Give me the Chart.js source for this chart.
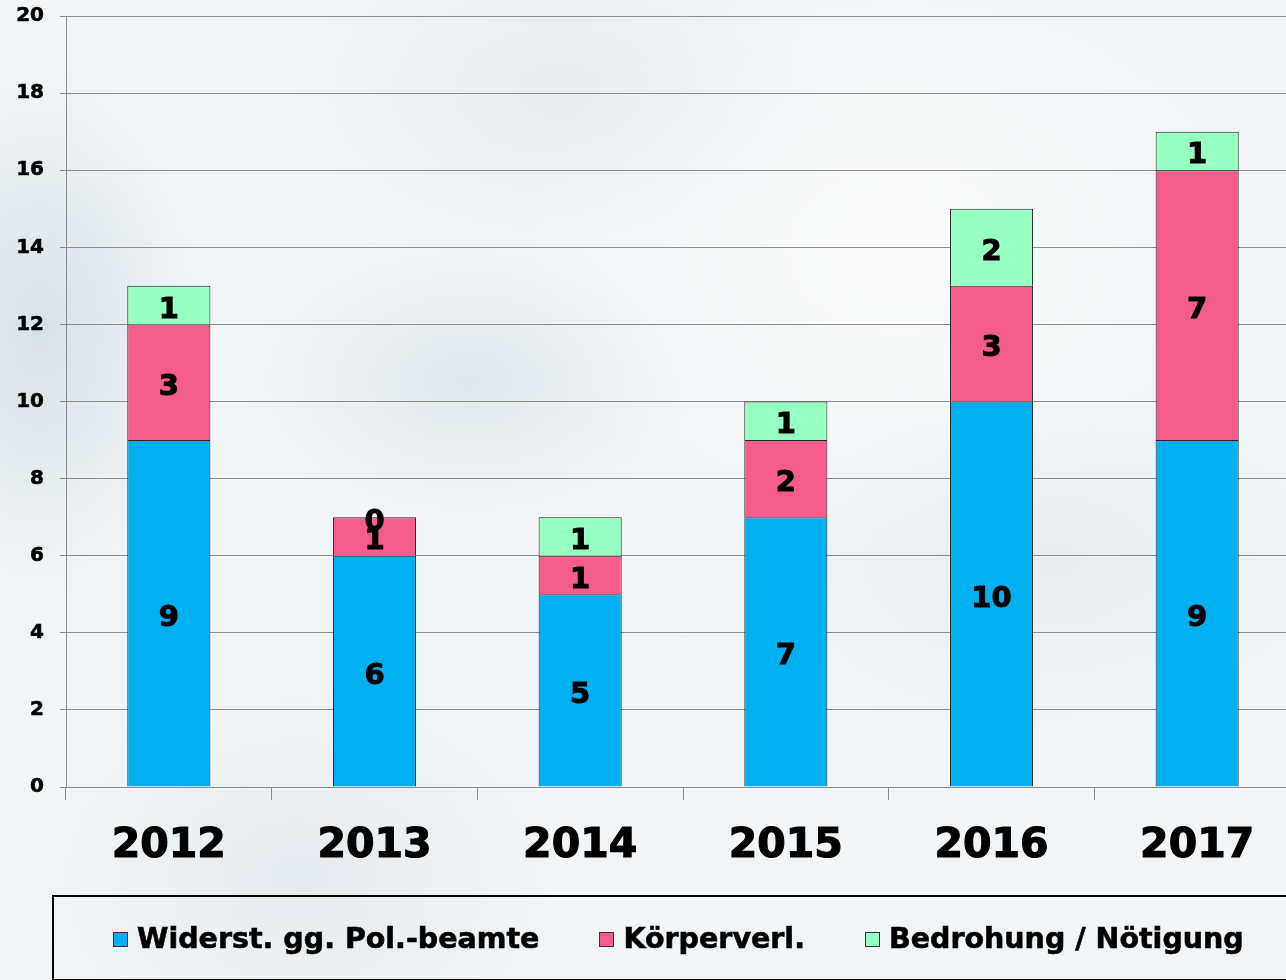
<!DOCTYPE html>
<html>
<head>
<meta charset="utf-8">
<script src="https://cdn.jsdelivr.net/npm/chart.js@4.4.1/dist/chart.umd.min.js"></script>
<style>
  html, body {
    margin: 0;
    padding: 0;
    width: 1286px;
    height: 980px;
    overflow: hidden;
  }
  body {
    position: relative;
    background-color: #f1f5f7;
    background-image:
      radial-gradient(ellipse 160px 260px at 40px 330px, rgba(190, 206, 218, 0.5), rgba(190, 206, 218, 0) 100%),
      radial-gradient(ellipse 220px 140px at 470px 380px, rgba(200, 213, 223, 0.4), rgba(200, 213, 223, 0) 100%),
      radial-gradient(ellipse 260px 160px at 560px 90px, rgba(205, 217, 226, 0.3), rgba(205, 217, 226, 0) 100%),
      radial-gradient(ellipse 300px 180px at 1050px 560px, rgba(208, 219, 228, 0.3), rgba(208, 219, 228, 0) 100%),
      radial-gradient(ellipse 260px 200px at 300px 880px, rgba(205, 216, 226, 0.35), rgba(205, 216, 226, 0) 100%),
      radial-gradient(ellipse 400px 300px at 900px 250px, rgba(255, 255, 255, 0.6), rgba(255, 255, 255, 0) 100%);
  }
  #chart {
    position: absolute;
    left: 0;
    top: 0;
  }
  #legend {
    position: absolute;
    left: 52px;
    top: 895px;
    width: 1300px;
    height: 86px;
    border: 2px solid #000;
    box-sizing: border-box;
    display: flex;
    align-items: center;
    padding-left: 59px;
    gap: 60px;
    font-family: "DejaVu Sans", sans-serif;
    font-weight: bold;
    font-size: 28.5px;
    color: #000;
    -webkit-text-stroke: 0.6px #000;
  }
  #legend .item {
    display: flex;
    align-items: center;
    white-space: nowrap;
  }
  #legend .swatch {
    width: 13px;
    height: 13px;
    border: 1px solid #333;
    margin-right: 9px;
    margin-top: 2px;
  }
</style>
</head>
<body>
<canvas id="chart" width="1300" height="980"></canvas>
<div id="legend"></div>
<script>
// Jahre und Fallzahlen je Delikt
const years = ["2012", "2013", "2014", "2015", "2016", "2017"];
const widerstand = [9, 6, 5, 7, 10, 9];
const koerperverl = [3, 1, 1, 2, 3, 7];
const bedrohung = [1, 0, 1, 1, 2, 1];
const yTicks = [0, 2, 4, 6, 8, 10, 12, 14, 16, 18, 20];

const seriesNames = ["Widerst. gg. Pol.-beamte", "Körperverl.", "Bedrohung / Nötigung"];
const seriesColors = ["#00b0f0", "#f45c8b", "#96ffc2"];

Chart.defaults.font.family = "'DejaVu Sans', sans-serif";
Chart.defaults.color = "#000";

const ctx = document.getElementById("chart").getContext("2d");

// Zahlen mittig in jedes Segment schreiben
const segmentLabels = {
  id: "segmentLabels",
  afterDatasetsDraw(chart) {
    const c = chart.ctx;
    c.save();
    c.font = "bold 29px 'DejaVu Sans', sans-serif";
    c.fillStyle = "#000";
    c.strokeStyle = "#000";
    c.lineWidth = 1;
    c.textAlign = "center";
    c.textBaseline = "middle";
    chart.data.datasets.forEach((ds, i) => {
      const meta = chart.getDatasetMeta(i);
      meta.data.forEach((bar, j) => {
        const y = (bar.y + bar.base) / 2 + 5;
        c.fillText(String(ds.data[j]), bar.x, y);
        c.strokeText(String(ds.data[j]), bar.x, y);
      });
    });
    c.restore();
  },
};

const datasets = [widerstand, koerperverl, bedrohung].map((values, i) => {
  return {
    label: seriesNames[i],
    data: values,
    backgroundColor: seriesColors[i],
    borderColor: "#222",
    borderWidth: 1,
    barPercentage: 0.404,
    categoryPercentage: 1,
  };
});

const chart = new Chart(ctx, {
  type: "bar",
  data: {
    labels: years,
    datasets: datasets,
  },
  options: {
    responsive: false,
    animation: false,
    layout: {
      padding: { top: 16, right: 0, bottom: 0, left: 0 },
    },
    plugins: {
      legend: { display: false },
      tooltip: { enabled: false },
    },
    scales: {
      x: {
        stacked: true,
        afterFit(scale) {
          scale.height = 193;
        },
        grid: {
          drawOnChartArea: false,
          color: "#8c8c8c",
          tickLength: 13,
        },
        border: { color: "#8c8c8c" },
        ticks: {
          padding: 22,
          font: { size: 41, weight: "bold" },
          textStrokeColor: "#000",
          textStrokeWidth: 1.2,
        },
      },
      y: {
        stacked: true,
        min: 0,
        max: 20,
        afterFit(scale) {
          scale.width = 66;
          scale.paddingTop = 0;
          scale.paddingBottom = 0;
        },
        afterBuildTicks(scale) {
          scale.ticks = yTicks.map((v) => ({ value: v }));
        },
        grid: {
          color: "#8c8c8c",
          tickLength: 6,
        },
        border: { color: "#8c8c8c" },
        ticks: {
          padding: 16,
          font: { size: 20, weight: "bold" },
          textStrokeColor: "#000",
          textStrokeWidth: 0.6,
        },
      },
    },
  },
  plugins: [segmentLabels],
});

// Legende unter dem Diagramm
const legend = document.getElementById("legend");
seriesNames.forEach((name, i) => {
  const item = document.createElement("div");
  item.className = "item";
  const swatch = document.createElement("span");
  swatch.className = "swatch";
  swatch.style.background = seriesColors[i];
  const text = document.createElement("span");
  text.textContent = name;
  item.appendChild(swatch);
  item.appendChild(text);
  legend.appendChild(item);
});
</script>
</body>
</html>
